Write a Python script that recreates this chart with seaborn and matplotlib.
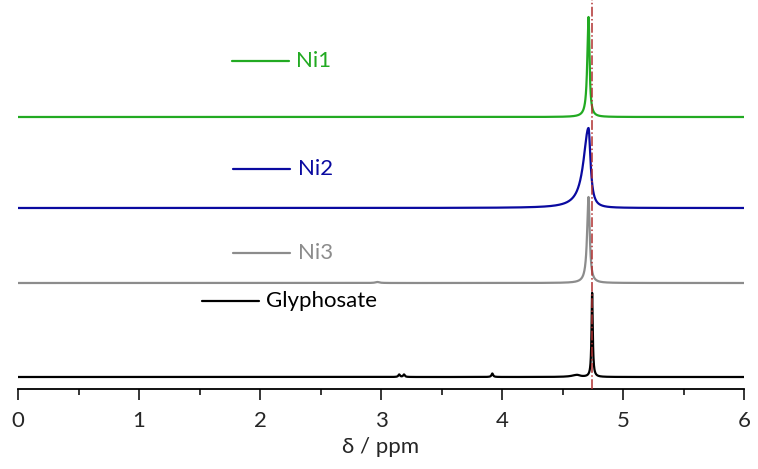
import numpy as np
import pandas as pd
import matplotlib
matplotlib.use('Agg')
import matplotlib.pyplot as plt
import seaborn as sns

# spectra: baseline offsets and peak parameters
names = ['Ni1', 'Ni2', 'Ni3', 'Glyphosate']
colors = ['#22aa22', '#0a0aa0', '#8c8c8c', '#000000']
offsets = [272, 181, 106, 12]

# (centre ppm, height, half width left, half width right)
peaks = {
    'Ni1': [(4.715, 100, 0.012, 0.010)],
    'Ni2': [(4.715, 80, 0.050, 0.020)],
    'Ni3': [(4.715, 86, 0.014, 0.012), (2.97, 1, 0.02, 0.02)],
    'Glyphosate': [(4.745, 84, 0.006, 0.006), (4.62, 2, 0.05, 0.03),
                   (3.15, 2.5, 0.008, 0.008), (3.19, 2.5, 0.008, 0.008),
                   (3.92, 3.5, 0.008, 0.008)],
}
ref_ppm = 4.74

label_y = [328, 220, 136, 88]
label_x0 = [1.77, 1.78, 1.78, 1.52]

ppm = np.linspace(0, 6, 6001)
rows = []
for name, off in zip(names, offsets):
    y = np.zeros_like(ppm)
    for c, h, wl, wr in peaks[name]:
        w = np.where(ppm < c, wl, wr)
        y += h / (1 + ((ppm - c) / w) ** 2)
    rows.append(pd.DataFrame({'ppm': ppm, 'y': y + off, 'spec': name}))
df = pd.concat(rows)

sns.set_style('white')
plt.rcParams['font.family'] = ['Lato', 'DejaVu Sans']

fig = plt.figure(figsize=(7.58, 4.69), dpi=100)
ax = fig.add_axes([18 / 758, (469 - 389) / 469, 726 / 758, 389 / 469])

sns.lineplot(data=df, x='ppm', y='y', hue='spec', hue_order=names,
             palette=colors, estimator=None, sort=False, lw=1.6,
             legend=False, ax=ax)

ax.axvline(ref_ppm, color='#b03030', ls='-.', lw=1.1, zorder=5)

for name, col, ly, lx in zip(names, colors, label_y, label_x0):
    ax.plot([lx, lx + 0.47], [ly, ly], color=col, lw=1.6)
    ax.text(lx + 0.53, ly, name, color=col, fontsize=16, va='center', ha='left')

ax.set_xlim(0, 6)
ax.set_ylim(0, 389)
for s in ['left', 'right', 'top']:
    ax.spines[s].set_visible(False)
ax.spines['bottom'].set_color('black')
ax.spines['bottom'].set_linewidth(1.3)
ax.set_yticks([])
ax.set_xticks(range(7))
ax.set_xticks(np.arange(0.5, 6, 1), minor=True)
ax.tick_params(axis='x', which='major', direction='out', length=8, width=1.3,
               labelsize=16, pad=8, bottom=True)
ax.tick_params(axis='x', which='minor', direction='out', length=4, width=1.3,
               bottom=True)
ax.set_xlabel('δ / ppm', fontsize=16, labelpad=4)
ax.set_ylabel('')

fig.savefig('out.png', dpi=100)
